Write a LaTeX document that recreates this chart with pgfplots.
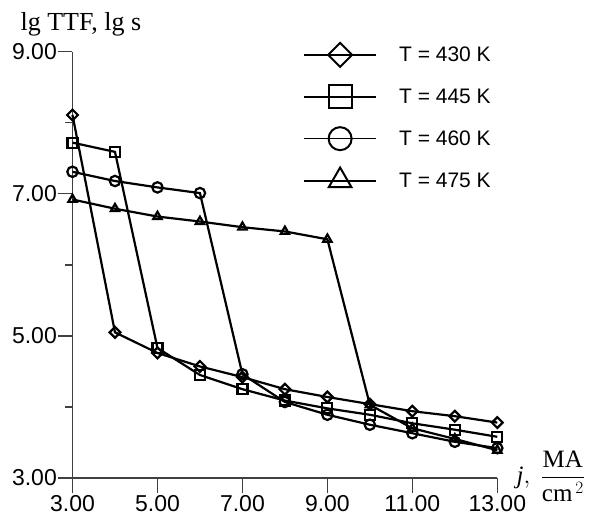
\documentclass[border=0pt]{standalone}
\usepackage{fontspec}
\setmainfont{Liberation Serif}
\setsansfont{Liberation Sans}
\usepackage{amsmath}
\usepackage{pgfplots}
\pgfplotsset{compat=1.18}
\begin{document}
\begin{tikzpicture}
\useasboundingbox (-72.5pt,-50pt) rectangle (523.5pt,478pt);
\begin{axis}[
  at={(0pt,0pt)}, anchor=south west,
  scale only axis,
  width=424.8pt, height=426.3pt,
  xmin=3, xmax=13, ymin=3, ymax=9,
  axis lines=left,
  axis line style={-, black!75, line width=1.2pt},
  xtick={3,5,7,9,11,13},
  ytick={3,5,7,9},
  minor ytick={4,6,8},
  xtick align=outside,
  ytick align=outside,
  xtick pos=left,
  ytick pos=left,
  major tick length=14.5pt,
  minor tick length=7pt,
  every major tick/.style={draw=black!75, line width=1.3pt},
  every minor tick/.style={draw=black!75, line width=1.3pt},
  /pgf/number format/assume math mode=true,
  /pgf/number format/fixed,
  /pgf/number format/fixed zerofill,
  /pgf/number format/precision=2,
  ticklabel style={font=\sffamily\fontsize{23}{27}\selectfont},
  yticklabel style={inner sep=1pt},
  xticklabel style={inner sep=3pt},
  clip=false,
  ylabel={lg TTF, lg s},
  ylabel style={rotate=-90, anchor=base west, inner sep=0pt, font=\fontsize{26}{30}\selectfont,
    at={(axis description cs:-0.1226,1.049)}},
  xlabel={$\textit{j},\ \dfrac{\text{MA}}{\text{cm}^{\,2}}$},
  xlabel style={anchor=base west, inner sep=0pt, font=\fontsize{25}{29}\selectfont,
    at={(axis description cs:1.045,-0.014)}},
  legend cell align=left,
  legend image code/.code={%
    \path[draw=none,fill=none] (0pt,-20pt) rectangle (72pt,20pt);
    \draw[mark repeat=2,mark phase=2] plot coordinates {(0pt,0pt) (36pt,0pt) (72pt,0pt)};},
  legend style={draw=none, fill=none, inner sep=0pt, row sep=1.9pt, column sep=22pt,
    nodes={inner sep=0pt, font=\sffamily\fontsize{21}{25}\selectfont},
    at={(axis description cs:0.5424,1.040)}, anchor=north west},
]
\addlegendimage{black, line width=2pt, mark=square, mark size=8.5, mark options={rotate=45}}
\addlegendentry{T = 430 K}
\addlegendimage{black, line width=2pt, mark=square, mark size=11.5}
\addlegendentry{T = 445 K}
\addlegendimage{black, line width=1pt, mark=o, mark size=11.5, mark options={line width=2pt}}
\addlegendentry{T = 460 K}
\addlegendimage{black, line width=2pt, mark=triangle, mark size=13}
\addlegendentry{T = 475 K}

% T = 430 K
\addplot[black, line width=2.2pt, mark=square, mark size=3.8, mark options={rotate=45}, forget plot]
coordinates {(3,8.11) (4,5.05) (5,4.76) (6,4.57) (7,4.42) (8,4.25) (9,4.14) (10,4.04) (11,3.94) (12,3.87) (13,3.78)};
% T = 445 K
\addplot[black, line width=2.2pt, mark=square, mark size=5, forget plot]
coordinates {(3,7.72) (4,7.59) (5,4.83) (6,4.45) (7,4.25) (8,4.09) (9,3.98) (10,3.89) (11,3.77) (12,3.68) (13,3.58)};
% T = 460 K
\addplot[black, line width=2.2pt, mark=o, mark size=5.2, forget plot]
coordinates {(3,7.31) (4,7.18) (5,7.09) (6,7.01) (7,4.46) (8,4.07) (9,3.89) (10,3.75) (11,3.63) (12,3.51) (13,3.42)};
% T = 475 K
\addplot[black, line width=2.2pt, mark=triangle, mark size=4.8, forget plot]
coordinates {(3,6.92) (4,6.79) (5,6.68) (6,6.61) (7,6.53) (8,6.47) (9,6.36) (10,4.03) (11,3.70) (12,3.55) (13,3.39)};
\end{axis}
\end{tikzpicture}
\end{document}
